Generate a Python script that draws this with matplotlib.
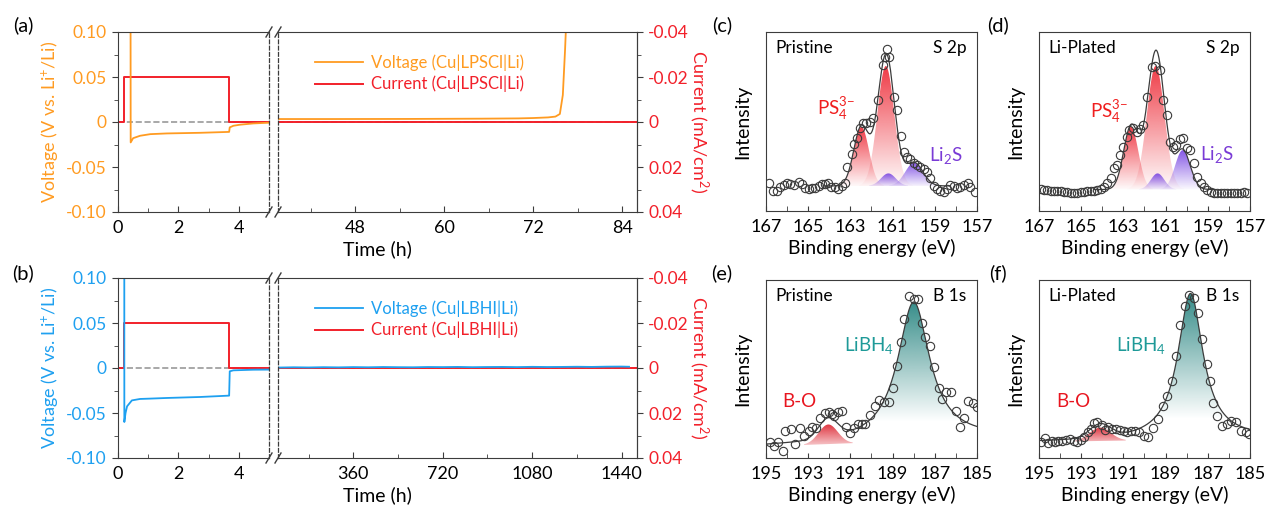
import numpy as np
import matplotlib
matplotlib.use("Agg")
import matplotlib.pyplot as plt
from matplotlib.colors import to_rgb

plt.rcParams['font.family'] = ['Lato', 'DejaVu Sans']
plt.rcParams['mathtext.fontset'] = 'custom'
plt.rcParams['mathtext.rm'] = 'Lato'
plt.rcParams['mathtext.default'] = 'regular'
plt.rcParams['axes.unicode_minus'] = False

W, H = 1266, 512
SPINE = '#3c3c3c'
ORANGE = '#FF9B21'
BLUE = '#1EA0F0'
RED = '#F2202A'

# ---- (a) Cu|LPSCl|Li : time (h), voltage (V), current (mA/cm2)
A_T_LEFT = [0, 0.36, 0.42, 0.5, 0.73, 1.07, 1.62, 2.72, 3.68, 3.70, 3.82, 4.04, 4.48, 4.98]
A_V_LEFT = [2.0, 2.0, -0.0227, -0.018, -0.0153, -0.0135, -0.0127, -0.012, -0.011, -0.006,
            -0.0042, -0.003, -0.0016, -0.0008]
A_T_RIGHT = [37.6, 45, 55, 65, 70, 72, 74, 75, 75.6, 76.0, 76.3, 76.6, 77.0]
A_V_RIGHT = [0.0033, 0.0033, 0.0034, 0.0037, 0.004, 0.0044, 0.0051, 0.006, 0.0089, 0.03,
             0.08, 0.14, 0.25]
A_IT_LEFT = [0, 0.19, 0.19, 3.68, 3.68, 5.0]
A_I_LEFT = [0, 0, -0.02, -0.02, 0, 0]
A_IT_RIGHT = [37.6, 86]
A_I_RIGHT = [0, 0]

# ---- (b) Cu|LBHI|Li
B_T_LEFT = [0, 0.19, 0.21, 0.25, 0.30, 0.46, 0.73, 1.07, 1.62, 2.72, 3.68, 3.70, 3.82, 4.48, 4.98]
B_V_LEFT = [2.0, 2.0, -0.06, -0.05, -0.0426, -0.036, -0.0344, -0.034, -0.0333, -0.0322,
            -0.0307, -0.0037, -0.0026, -0.0019, -0.0018]
B_T_RIGHT = [60, 120, 180, 240, 300, 360, 420, 480, 540, 600, 660, 720, 780, 840, 900,
             960, 1020, 1080, 1140, 1200, 1260, 1320, 1380, 1440, 1470]
B_V_RIGHT = [0.0005, 0.0008, 0.0006, 0.0009, 0.0007, 0.0010, 0.0008, 0.0011, 0.0009, 0.0008,
             0.0011, 0.0010, 0.0012, 0.0009, 0.0011, 0.0012, 0.0010, 0.0013, 0.0011, 0.0012,
             0.0014, 0.0012, 0.0015, 0.0016, 0.0014]
B_IT_LEFT = [0, 0.19, 0.19, 3.68, 3.68, 5.0]
B_I_LEFT = [0, 0, -0.02, -0.02, 0, 0]
B_IT_RIGHT = [57, 1502]
B_I_RIGHT = [0, 0]

# ---- XPS S 2p, (c) pristine
C_E = [166.87, 166.67, 166.48, 166.32, 166.16, 166.0, 165.85, 165.69, 165.45, 165.29, 165.14,
       164.98, 164.82, 164.66, 164.50, 164.35, 164.19, 164.06, 163.90, 163.75, 163.59, 163.40,
       163.24, 163.16, 162.92, 162.85, 162.69, 162.56, 162.40, 162.24, 162.09, 161.93, 161.69,
       161.45, 161.34, 161.27, 161.15, 160.95, 160.79, 160.60, 160.48, 160.32, 160.16, 160.0,
       159.84, 159.69, 159.53, 159.37, 159.21, 159.05, 158.90, 158.74, 158.55, 158.42, 158.26,
       158.07, 157.95, 157.79, 157.63, 157.44, 157.32, 157.08]
C_I = [0.158, 0.114, 0.114, 0.132, 0.145, 0.155, 0.151, 0.145, 0.164, 0.151, 0.127, 0.121,
       0.127, 0.127, 0.14, 0.151, 0.151, 0.158, 0.136, 0.132, 0.121, 0.14, 0.158, 0.248, 0.318,
       0.374, 0.406, 0.462, 0.49, 0.493, 0.499, 0.518, 0.62, 0.816, 0.858, 0.903, 0.858, 0.639,
       0.564, 0.419, 0.331, 0.304, 0.289, 0.266, 0.257, 0.248, 0.233, 0.22, 0.182, 0.14, 0.121,
       0.114, 0.108, 0.121, 0.145, 0.14, 0.127, 0.136, 0.145, 0.155, 0.132, 0.108]
C_BASE = (0.14, 0.14)                     # baseline at high-BE end, low-BE end
C_PS = [(162.48, 0.33, 0.36), (161.32, 0.67, 0.40)]      # centre, height, sigma
C_LIS = [(161.20, 0.07, 0.35), (159.98, 0.13, 0.42)]
C_RANGE = (164.3, 158.3)

# ---- XPS S 2p, (d) Li-plated
D_E = [166.92, 166.76, 166.61, 166.45, 166.29, 166.13, 165.97, 165.82, 165.66, 165.50, 165.34,
       165.18, 165.03, 164.87, 164.71, 164.55, 164.39, 164.24, 164.08, 163.92, 163.76, 163.60,
       163.45, 163.32, 163.16, 163.00, 162.84, 162.72, 162.56, 162.37, 162.21, 162.09, 161.90,
       161.66, 161.50, 161.27, 161.11, 160.95, 160.79, 160.67, 160.51, 160.32, 160.16, 160.0,
       159.84, 159.65, 159.50, 159.34, 159.18, 159.02, 158.86, 158.71, 158.55, 158.39, 158.23,
       158.07, 157.92, 157.76, 157.60, 157.44, 157.28, 157.13]
D_I = [0.121, 0.117, 0.117, 0.114, 0.114, 0.110, 0.110, 0.108, 0.106, 0.102, 0.102, 0.102,
       0.106, 0.106, 0.110, 0.110, 0.114, 0.117, 0.125, 0.136, 0.155, 0.182, 0.238, 0.257, 0.313,
       0.359, 0.415, 0.452, 0.462, 0.443, 0.456, 0.48, 0.635, 0.806, 0.81, 0.788, 0.62, 0.536,
       0.387, 0.359, 0.369, 0.40, 0.406, 0.35, 0.341, 0.266, 0.192, 0.158, 0.132, 0.117, 0.108,
       0.102, 0.099, 0.099, 0.099, 0.102, 0.102, 0.102, 0.102, 0.102, 0.106, 0.102]
D_BASE = (0.12, 0.12)
D_PS = [(162.64, 0.35, 0.35), (161.47, 0.69, 0.42)]
D_LIS = [(161.38, 0.09, 0.32), (160.19, 0.22, 0.36)]
D_RANGE = (164.4, 158.7)

# ---- XPS B 1s, (e) pristine
E_E = [194.83, 194.64, 194.43, 194.19, 194.08, 193.80, 193.61, 193.40, 193.18, 192.95, 192.82,
       192.61, 192.42, 192.19, 192.03, 191.87, 191.76, 191.60, 191.40, 191.19, 191.03, 190.85,
       190.64, 190.45, 190.29, 190.06, 189.82, 189.63, 189.42, 189.19, 189.0, 188.79, 188.60,
       188.44, 188.21, 188.0, 187.81, 187.61, 187.45, 187.24, 187.02, 186.82, 186.66, 186.45,
       186.23, 186.0, 185.79, 185.60, 185.43, 185.21, 185.0]
E_I = [0.092, 0.069, 0.088, 0.041, 0.150, 0.163, 0.079, 0.166, 0.125, 0.153, 0.172, 0.166,
       0.222, 0.252, 0.256, 0.247, 0.237, 0.256, 0.264, 0.172, 0.138, 0.166, 0.191, 0.191, 0.191,
       0.241, 0.29, 0.327, 0.312, 0.316, 0.394, 0.518, 0.652, 0.779, 0.91, 0.892, 0.892, 0.761,
       0.677, 0.63, 0.514, 0.396, 0.331, 0.368, 0.368, 0.264, 0.172, 0.224, 0.318, 0.308, 0.284]
E_BASE = (0.065, 0.11)
E_BO = (192.05, 0.11, 0.45)               # centre, height, sigma
E_LBH = (188.0, 0.78, 0.92)               # centre, height, hwhm

# ---- XPS B 1s, (f) Li-plated
F_E = [194.92, 194.72, 194.56, 194.40, 194.24, 194.08, 193.93, 193.72, 193.53, 193.34, 193.18,
       193.03, 192.87, 192.69, 192.55, 192.39, 192.24, 192.03, 191.87, 191.71, 191.56, 191.35,
       191.16, 190.97, 190.81, 190.66, 190.45, 190.26, 190.02, 189.82, 189.58, 189.34, 189.11,
       188.92, 188.71, 188.52, 188.32, 188.08, 187.88, 187.65, 187.48, 187.26, 187.05, 186.90,
       186.74, 186.55, 186.34, 186.11, 185.92, 185.68, 185.44, 185.19, 185.03]
F_I = [0.088, 0.110, 0.084, 0.097, 0.088, 0.097, 0.097, 0.103, 0.107, 0.097, 0.088, 0.103,
       0.116, 0.144, 0.163, 0.194, 0.2, 0.185, 0.159, 0.172, 0.163, 0.163, 0.159, 0.153, 0.148,
       0.153, 0.153, 0.144, 0.125, 0.116, 0.166, 0.219, 0.293, 0.346, 0.434, 0.574, 0.746, 0.854,
       0.914, 0.901, 0.817, 0.671, 0.527, 0.43, 0.308, 0.237, 0.181, 0.191, 0.206, 0.2, 0.153,
       0.144, 0.135]
F_BASE = (0.09, 0.11)
F_BO = (192.1, 0.075, 0.5)
F_LBH = (187.82, 0.82, 0.72)


def gauss(x, c, h, s):
    return h * np.exp(-(x - c) ** 2 / (2 * s * s))


def lorentz(x, c, h, g):
    return h / (1 + ((x - c) / g) ** 2)


fig = plt.figure(figsize=(W / 100, H / 100), dpi=100)


def add_box(x0, x1, ytop, ybot):
    return fig.add_axes([x0 / W, 1 - ybot / H, (x1 - x0) / W, (ybot - ytop) / H])


def cycling_panel(ytop, ybot, vcol, vdata, idata, xlim_r, major_r, minor_r, names):
    axL = add_box(118, 269, ytop, ybot)
    axR = add_box(278, 637, ytop, ybot)
    cL, cR = axL.twinx(), axR.twinx()
    tl, vl, tr, vr = vdata
    itl, il, itr, ir = idata
    for ax, c in ((axL, cL), (axR, cR)):
        ax.set_zorder(c.get_zorder() + 1)
        ax.patch.set_visible(False)
        ax.set_ylim(-0.1, 0.1)
        c.set_ylim(0.04, -0.04)
        c.axhline(0, color='#9a9a9a', ls='--', lw=1.2, zorder=1)
        for s in ax.spines.values():
            s.set_color(SPINE)
        for s in c.spines.values():
            s.set_visible(False)
        ax.tick_params(axis='x', which='both', direction='in', top=False, color=SPINE,
                       labelsize=13, pad=6)
        ax.tick_params(axis='x', which='major', length=4)
        ax.tick_params(axis='x', which='minor', length=3)
    axL.plot(tl, vl, color=vcol, lw=1.3)
    lv, = axR.plot(tr, vr, color=vcol, lw=1.3)
    cL.plot(itl, il, color=RED, lw=1.4, zorder=2)
    lc, = cR.plot(itr, ir, color=RED, lw=1.4, zorder=2)

    axL.set_xlim(0, 5)
    axL.set_xticks([0, 2, 4])
    axL.set_xticks([1, 3], minor=True)
    axR.set_xlim(*xlim_r)
    axR.set_xticks(major_r)
    axR.set_xticks(minor_r, minor=True)

    axL.set_yticks([0.1, 0.05, 0, -0.05, -0.1], labels=['0.10', '0.05', '0', '-0.05', '-0.10'])
    axL.set_yticks([0.075, 0.025, -0.025, -0.075], minor=True)
    axL.tick_params(axis='y', which='both', direction='out', right=False, color=SPINE,
                    labelcolor=vcol, labelsize=12.5, pad=4)
    axL.tick_params(axis='y', which='major', length=4)
    axL.tick_params(axis='y', which='minor', length=3)
    axR.tick_params(axis='y', which='both', left=False, labelleft=False, right=False)
    cL.tick_params(axis='y', which='both', right=False, labelright=False, left=False)
    cR.spines['right'].set_visible(True)
    cR.spines['right'].set_color(SPINE)
    cR.set_yticks([-0.04, -0.02, 0, 0.02, 0.04], labels=['-0.04', '-0.02', '0', '0.02', '0.04'])
    cR.set_yticks([-0.03, -0.01, 0.01, 0.03], minor=True)
    cR.tick_params(axis='y', which='both', direction='out', color=SPINE, labelcolor=RED,
                   labelsize=12.5, pad=4)
    cR.tick_params(axis='y', which='major', length=4)
    cR.tick_params(axis='y', which='minor', length=3)

    # broken axis: dashed inner spines plus slashes
    axL.spines['right'].set_linestyle((0, (3, 2)))
    axR.spines['left'].set_linestyle((0, (3, 2)))
    axL.spines['right'].set_linewidth(0.9)
    axR.spines['left'].set_linewidth(0.9)
    hpx = ybot - ytop
    for ax, xa, wpx in ((axL, 1, 151), (axR, 0, 359)):
        dx, dy = 3 / wpx, 5 / hpx
        for ya in (0, 1):
            ax.plot([xa - dx, xa + dx], [ya - dy, ya + dy], transform=ax.transAxes,
                    color=SPINE, lw=1, clip_on=False, zorder=10)

    axR.legend([lv, lc], names, loc='center left', bbox_to_anchor=(0.103, 0.77),
               frameon=False, fontsize=12, handlelength=2.9, handletextpad=0.45,
               labelspacing=0.3, borderpad=0, borderaxespad=0, labelcolor='linecolor')

    ymid = 1 - (ytop + ybot) / 2 / H
    fig.text(50 / W, ymid, 'Voltage (V vs. Li$^{+}$/Li)', rotation=90, ha='center',
             va='center', color=vcol, fontsize=13)
    fig.text(699 / W, ymid, 'Current (mA/cm$^{2}$)', rotation=270, ha='center',
             va='center', color=RED, fontsize=13)
    fig.text(377 / W, 1 - (ybot + 37) / H, 'Time (h)', ha='center', va='center', fontsize=14)


cycling_panel(32, 212, ORANGE, (A_T_LEFT, A_V_LEFT, A_T_RIGHT, A_V_RIGHT),
              (A_IT_LEFT, A_I_LEFT, A_IT_RIGHT, A_I_RIGHT),
              (37.6, 86), [48, 60, 72, 84], [42, 54, 66, 78],
              ['Voltage (Cu|LPSCl|Li)', 'Current (Cu|LPSCl|Li)'])
cycling_panel(278, 458, BLUE, (B_T_LEFT, B_V_LEFT, B_T_RIGHT, B_V_RIGHT),
              (B_IT_LEFT, B_I_LEFT, B_IT_RIGHT, B_I_RIGHT),
              (57, 1502), [360, 720, 1080, 1440], [180, 540, 900, 1260],
              ['Voltage (Cu|LBHI|Li)', 'Current (Cu|LBHI|Li)'])


def gradient_fill(ax, x, ylo, yhi, color, yfade, amax=0.95, z=2):
    poly = ax.fill_between(x, ylo, yhi, facecolor='none', edgecolor='none')
    path = poly.get_paths()[0]
    ytop = float(np.max(yhi))
    img = np.zeros((200, 2, 4))
    img[..., :3] = to_rgb(color)
    img[..., 3] = np.linspace(0, amax, 200)[:, None]
    im = ax.imshow(img, extent=[x.min(), x.max(), yfade, ytop], origin='lower',
                   aspect='auto', interpolation='bilinear', zorder=z)
    im.set_clip_path(path, transform=ax.transData)


def xps_axes(x0, x1, ytop, ybot, elim, state, core):
    ax = add_box(x0, x1, ytop, ybot)
    for s in ax.spines.values():
        s.set_color(SPINE)
    ax.set_yticks([])
    lo, hi = min(elim), max(elim)
    ax.set_xticks(np.arange(lo, hi + 1, 2))
    ax.set_xticks(np.arange(lo, hi + 1, 1), minor=True)
    ax.tick_params(axis='x', which='both', direction='in', length=3.5, color=SPINE,
                   labelsize=13, pad=6, top=False)
    ax.text(0.045, 0.91, state, transform=ax.transAxes, ha='left', va='center', fontsize=12.5)
    ax.text(0.95, 0.91, core, transform=ax.transAxes, ha='right', va='center', fontsize=12.5)
    ymid = 1 - (ytop + ybot) / 2 / H
    fig.text((x0 - 23) / W, ymid, 'Intensity', rotation=90, ha='center', va='center',
             fontsize=14)
    fig.text((x0 + x1) / 2 / W, 1 - (ybot + 37) / H, 'Binding energy (eV)', ha='center',
             va='center', fontsize=14)
    return ax


def baseline(x, base, elim):
    return base[0] + (base[1] - base[0]) * (elim[0] - x) / (elim[0] - elim[1])


def s2p_panel(x0, x1, ytop, ybot, state, E, I, base, ps, lis, rng, ps_pos, lis_pos):
    elim = (167, 157)
    ax = xps_axes(x0, x1, ytop, ybot, elim, state, 'S 2p')
    x = np.linspace(rng[1], rng[0], 400)
    b = baseline(x, base, elim)
    fit = b.copy()
    for c, h, s in ps + lis:
        fit += gauss(x, c, h, s)
    for c, h, s in ps:
        g = gauss(x, c, h, s)
        m = g > 0.004
        gradient_fill(ax, x[m], b[m], b[m] + g[m], '#EE2A36', b[m].min() - 0.01, 0.92)
    for c, h, s in lis:
        g = gauss(x, c, h, s)
        m = g > 0.002
        gradient_fill(ax, x[m], b[m], b[m] + g[m], '#7440E2', b[m].min() - 0.01, 0.9, z=3)
    ax.plot(x, fit, color=SPINE, lw=0.9, zorder=4)
    ax.plot(E, I, 'o', ms=6, mfc='none', mec='#3a3a3a', mew=0.8, zorder=5)
    ax.text(*ps_pos, 'PS$_4^{3{-}}$', color='#F01E1E', ha='center', va='center', fontsize=13.5)
    ax.text(*lis_pos, 'Li$_2$S', color='#7A3BD6', ha='center', va='center', fontsize=13.5)
    ax.set_xlim(*elim)
    ax.set_ylim(0, 1)


def b1s_panel(x0, x1, ytop, ybot, state, E, I, base, bo, lbh, lbh_fade, lbh_pos, bo_pos):
    elim = (195, 185)
    ax = xps_axes(x0, x1, ytop, ybot, elim, state, 'B 1s')
    x = np.linspace(185.0, 195.0, 500)
    b = baseline(x, base, elim)
    gb = gauss(x, *bo)
    lb = lorentz(x, *lbh)
    fit = b + gb + lb
    m = gb > 0.004
    gradient_fill(ax, x[m], b[m], b[m] + gb[m], '#DC1F2B', b[m].min() - 0.05, 0.9)
    gradient_fill(ax, x, b, b + lb, '#2A8682', lbh_fade, 0.95)
    ax.plot(x, fit, color=SPINE, lw=0.9, zorder=4)
    ax.plot(E, I, 'o', ms=6, mfc='none', mec='#3a3a3a', mew=0.8, zorder=5)
    ax.text(*lbh_pos, 'LiBH$_4$', color='#1E9A98', ha='center', va='center', fontsize=13.5)
    ax.text(*bo_pos, 'B-O', color='#E8151F', ha='center', va='center', fontsize=13.5)
    ax.set_xlim(*elim)
    ax.set_ylim(0, 1)


s2p_panel(766, 977, 32, 211, 'Pristine', C_E, C_I, C_BASE, C_PS, C_LIS, C_RANGE,
          (163.7, 0.57), (158.47, 0.31))
s2p_panel(1039, 1250, 32, 211, 'Li-Plated', D_E, D_I, D_BASE, D_PS, D_LIS, D_RANGE,
          (163.68, 0.555), (158.55, 0.313))
b1s_panel(766, 977, 280, 458, 'Pristine', E_E, E_I, E_BASE, E_BO, E_LBH, 0.2,
          (190.13, 0.634), (193.42, 0.318))
b1s_panel(1039, 1250, 280, 458, 'Li-Plated', F_E, F_I, F_BASE, F_BO, F_LBH, 0.22,
          (190.18, 0.634), (193.39, 0.318))

for lab, px, py in (('(a)', 23, 25), ('(b)', 23, 273), ('(c)', 722, 25),
                    ('(d)', 998, 25), ('(e)', 722, 273), ('(f)', 998, 273)):
    fig.text(px / W, 1 - py / H, lab, ha='center', va='center', fontsize=14.5)

fig.savefig('out.png', dpi=100)
